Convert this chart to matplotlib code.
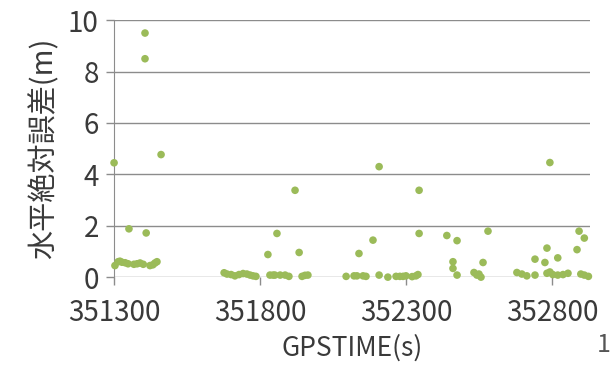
import numpy as np
import matplotlib.pyplot as plt

plt.rcParams['font.family'] = ['Noto Sans CJK JP', 'DejaVu Sans']

# GPS time (s) and horizontal absolute error (m)
gpstime = [
    351300, 351303, 351314, 351320, 351327, 351338, 351348, 351351, 351368, 351379,
    351389, 351400, 351406, 351406, 351410, 351423, 351433, 351440, 351447, 351461,
    351677, 351687, 351701, 351714, 351728, 351742, 351755, 351766, 351776, 351786,
    351827, 351834, 351845, 351851, 351858, 351869, 351886, 351899, 351920, 351934,
    351944, 351954, 351964,
    352095, 352122, 352132, 352139, 352153, 352163, 352187, 352208, 352208, 352238,
    352266, 352279, 352290, 352300, 352321, 352334, 352341, 352345, 352345,
    352440, 352461, 352461, 352475, 352475, 352533, 352543, 352550, 352557, 352564,
    352581,
    352680, 352697, 352714, 352742, 352742, 352776, 352783, 352783, 352793, 352793,
    352803, 352820, 352820, 352838, 352855, 352886, 352893, 352899, 352911, 352911,
    352925,
]
error_m = [
    4.45, 0.45, 0.60, 0.62, 0.58, 0.56, 0.52, 1.88, 0.50, 0.52,
    0.55, 0.50, 9.50, 8.50, 1.72, 0.45, 0.48, 0.55, 0.60, 4.77,
    0.17, 0.12, 0.10, 0.05, 0.10, 0.14, 0.12, 0.08, 0.05, 0.03,
    0.88, 0.08, 0.08, 0.08, 1.70, 0.08, 0.08, 0.03, 3.38, 0.96,
    0.03, 0.07, 0.08,
    0.03, 0.05, 0.05, 0.92, 0.05, 0.03, 1.44, 4.30, 0.08, 0.00,
    0.03, 0.03, 0.03, 0.05, 0.02, 0.05, 0.10, 3.38, 1.70,
    1.62, 0.60, 0.34, 1.42, 0.08, 0.18, 0.08, 0.12, 0.00, 0.57,
    1.79,
    0.18, 0.12, 0.05, 0.08, 0.70, 0.57, 1.13, 0.15, 4.46, 0.20,
    0.10, 0.75, 0.08, 0.10, 0.15, 1.07, 1.79, 0.12, 1.52, 0.08,
    0.03,
]
xticks = [351300, 351800, 352300, 352800]
yticks = [0, 2, 4, 6, 8, 10]

fig = plt.figure(figsize=(6.1, 3.74), dpi=100)
ax = fig.add_axes([0.187, 0.259, 0.780, 0.687])

ax.scatter(gpstime, error_m, s=30, color='#9bbb59', edgecolors='none', zorder=3, clip_on=False)

ax.set_xlim(351300, 352930)
ax.set_ylim(0, 10)
ax.set_xticks(xticks)
ax.set_yticks(yticks)
ax.grid(axis='y', color='#8c8c8c', linewidth=1.0)
ax.set_axisbelow(True)

for side in ['top', 'right', 'bottom']:
    ax.spines[side].set_visible(False)
ax.spines['left'].set_color('#8c8c8c')
ax.spines['left'].set_bounds(0, 10)
ax.tick_params(axis='both', colors='#8c8c8c', labelcolor='#3a3a3a', labelsize=20, length=6, width=1.0)
ax.tick_params(axis='x', pad=9)
ax.tick_params(axis='y', pad=5)

ax.set_xlabel('GPSTIME(s)', fontsize=19, color='#3a3a3a', labelpad=5)
ax.set_ylabel('水平絶対誤差(m)', fontsize=21, color='#3a3a3a', labelpad=6)

fig.text(0.978, 0.078, '1', fontsize=18, color='#555555', ha='left', va='center')

fig.savefig('out.png', dpi=100)
